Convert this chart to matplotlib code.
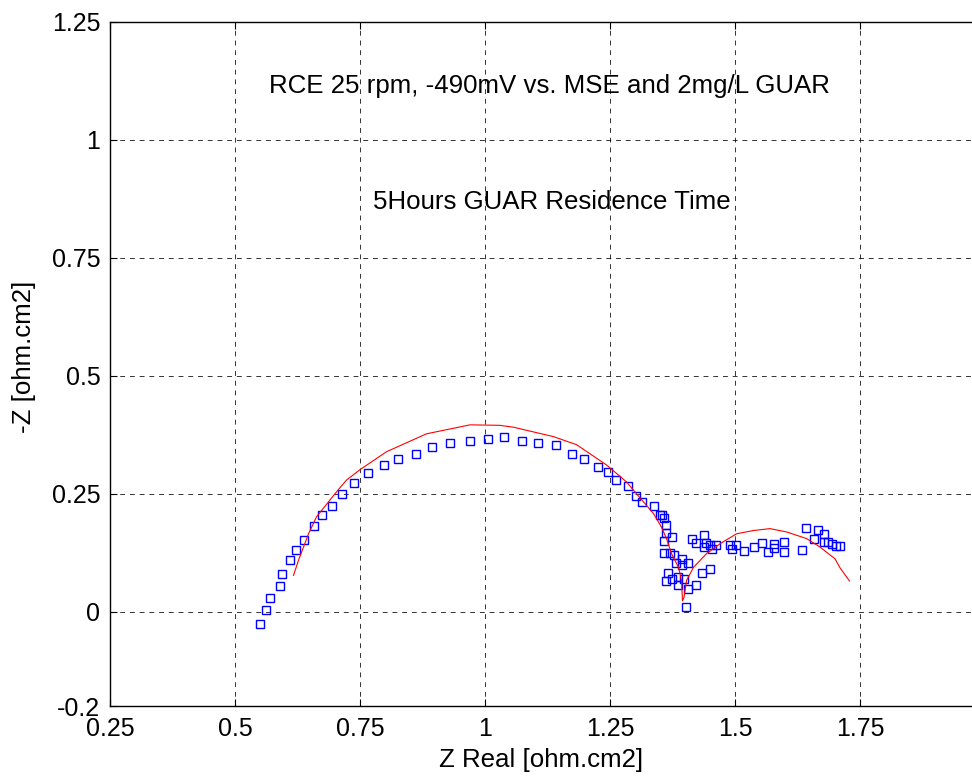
import matplotlib
matplotlib.use("Agg")
import matplotlib.pyplot as plt

plt.rcParams['font.family'] = ['Liberation Sans', 'DejaVu Sans']

# Measured data (squares)
meas_x = [0.549, 0.561, 0.569, 0.589, 0.593, 0.609, 0.621, 0.637, 0.657, 0.673,
          0.693, 0.713, 0.737, 0.765, 0.797, 0.825, 0.861, 0.893, 0.929, 0.969,
          1.005, 1.037, 1.073, 1.105, 1.141, 1.173, 1.197, 1.225, 1.245, 1.261,
          1.285, 1.301, 1.313, 1.337, 1.349, 1.357, 1.361, 1.373, 1.357, 1.353,
          1.361, 1.357, 1.369, 1.377, 1.393, 1.381, 1.405, 1.393, 1.365, 1.385,
          1.361, 1.373, 1.397, 1.385, 1.405, 1.421, 1.433, 1.449, 1.401, 1.413,
          1.437, 1.421, 1.441, 1.437, 1.449, 1.461, 1.453, 1.489, 1.493, 1.501,
          1.517, 1.537, 1.553, 1.565, 1.577, 1.577, 1.597, 1.597, 1.634, 1.642,
          1.666, 1.658, 1.678, 1.678, 1.686, 1.694, 1.702, 1.710]
meas_y = [-0.026, 0.004, 0.029, 0.055, 0.080, 0.110, 0.131, 0.152, 0.182, 0.204,
          0.225, 0.250, 0.272, 0.293, 0.311, 0.323, 0.335, 0.348, 0.357, 0.361,
          0.365, 0.370, 0.361, 0.357, 0.353, 0.335, 0.323, 0.306, 0.297, 0.280,
          0.267, 0.246, 0.233, 0.225, 0.204, 0.199, 0.184, 0.158, 0.150, 0.205,
          0.167, 0.124, 0.124, 0.120, 0.111, 0.103, 0.103, 0.098, 0.081, 0.073,
          0.064, 0.069, 0.069, 0.056, 0.047, 0.056, 0.081, 0.090, 0.009, 0.154,
          0.162, 0.145, 0.145, 0.137, 0.141, 0.141, 0.133, 0.141, 0.133, 0.141,
          0.128, 0.137, 0.145, 0.127, 0.144, 0.136, 0.148, 0.127, 0.131, 0.178,
          0.174, 0.153, 0.165, 0.148, 0.148, 0.144, 0.140, 0.140]

# Model fit (red line)
fit_x = [0.617, 0.627, 0.647, 0.663, 0.703, 0.723, 0.750, 0.803, 0.883, 0.970,
         1.030, 1.057, 1.137, 1.183, 1.243, 1.283, 1.303, 1.337, 1.353, 1.363,
         1.373, 1.387, 1.393, 1.395, 1.398, 1.403, 1.417, 1.443, 1.470, 1.503,
         1.537, 1.570, 1.603, 1.643, 1.670, 1.700, 1.710, 1.729]
fit_y = [0.077, 0.109, 0.165, 0.201, 0.254, 0.279, 0.301, 0.339, 0.377, 0.396,
         0.395, 0.391, 0.371, 0.354, 0.311, 0.275, 0.250, 0.208, 0.179, 0.155,
         0.123, 0.094, 0.066, 0.023, 0.030, 0.066, 0.094, 0.123, 0.144, 0.165,
         0.172, 0.176, 0.169, 0.155, 0.137, 0.112, 0.093, 0.065]

xticks = [0.25, 0.5, 0.75, 1.0, 1.25, 1.5, 1.75]
xtick_labels = ['0.25', '0.5', '0.75', '1', '1.25', '1.5', '1.75']
yticks = [-0.2, 0, 0.25, 0.5, 0.75, 1.0, 1.25]
ytick_labels = ['-0.2', '0', '0.25', '0.5', '0.75', '1', '1.25']

FS = 18
FS_TXT = 18.6

fig = plt.figure(figsize=(9.72, 7.81), dpi=100)
ax = fig.add_axes([110/972, 1 - 706/781, 875/972, (706-22)/781])

ax.plot(meas_x, meas_y, linestyle='none', marker='s', markersize=6,
        markerfacecolor='none', markeredgecolor='#0000ff', markeredgewidth=1.0)
ax.plot(fit_x, fit_y, color='#ff0000', linewidth=0.8)

ax.set_xlim(0.25, 2.0)
ax.set_ylim(-0.2, 1.25)
ax.set_xticks(xticks)
ax.set_xticklabels(xtick_labels)
ax.set_yticks(yticks)
ax.set_yticklabels(ytick_labels)
ax.tick_params(direction='in', top=True, right=True, labelsize=FS, length=5)
ax.tick_params(axis='x', pad=8)
ax.tick_params(axis='y', pad=7)
ax.grid(True, color='black', linestyle=(0, (5, 5)), linewidth=0.7, alpha=0.8)
for s in ax.spines.values():
    s.set_linewidth(1.0)

ax.set_xlabel('Z Real [ohm.cm2]', fontsize=FS_TXT)
ax.set_ylabel('-Z [ohm.cm2]', fontsize=FS_TXT)
ax.xaxis.set_label_coords(0.493, -0.061)
ax.yaxis.set_label_coords(-0.084, 0.51)

ax.text(1.128, 1.115, 'RCE 25 rpm, -490mV vs. MSE and 2mg/L GUAR',
        ha='center', va='center', fontsize=FS_TXT)
ax.text(1.133, 0.868, '5Hours GUAR Residence Time',
        ha='center', va='center', fontsize=FS_TXT)

fig.savefig('out.png', dpi=100)
